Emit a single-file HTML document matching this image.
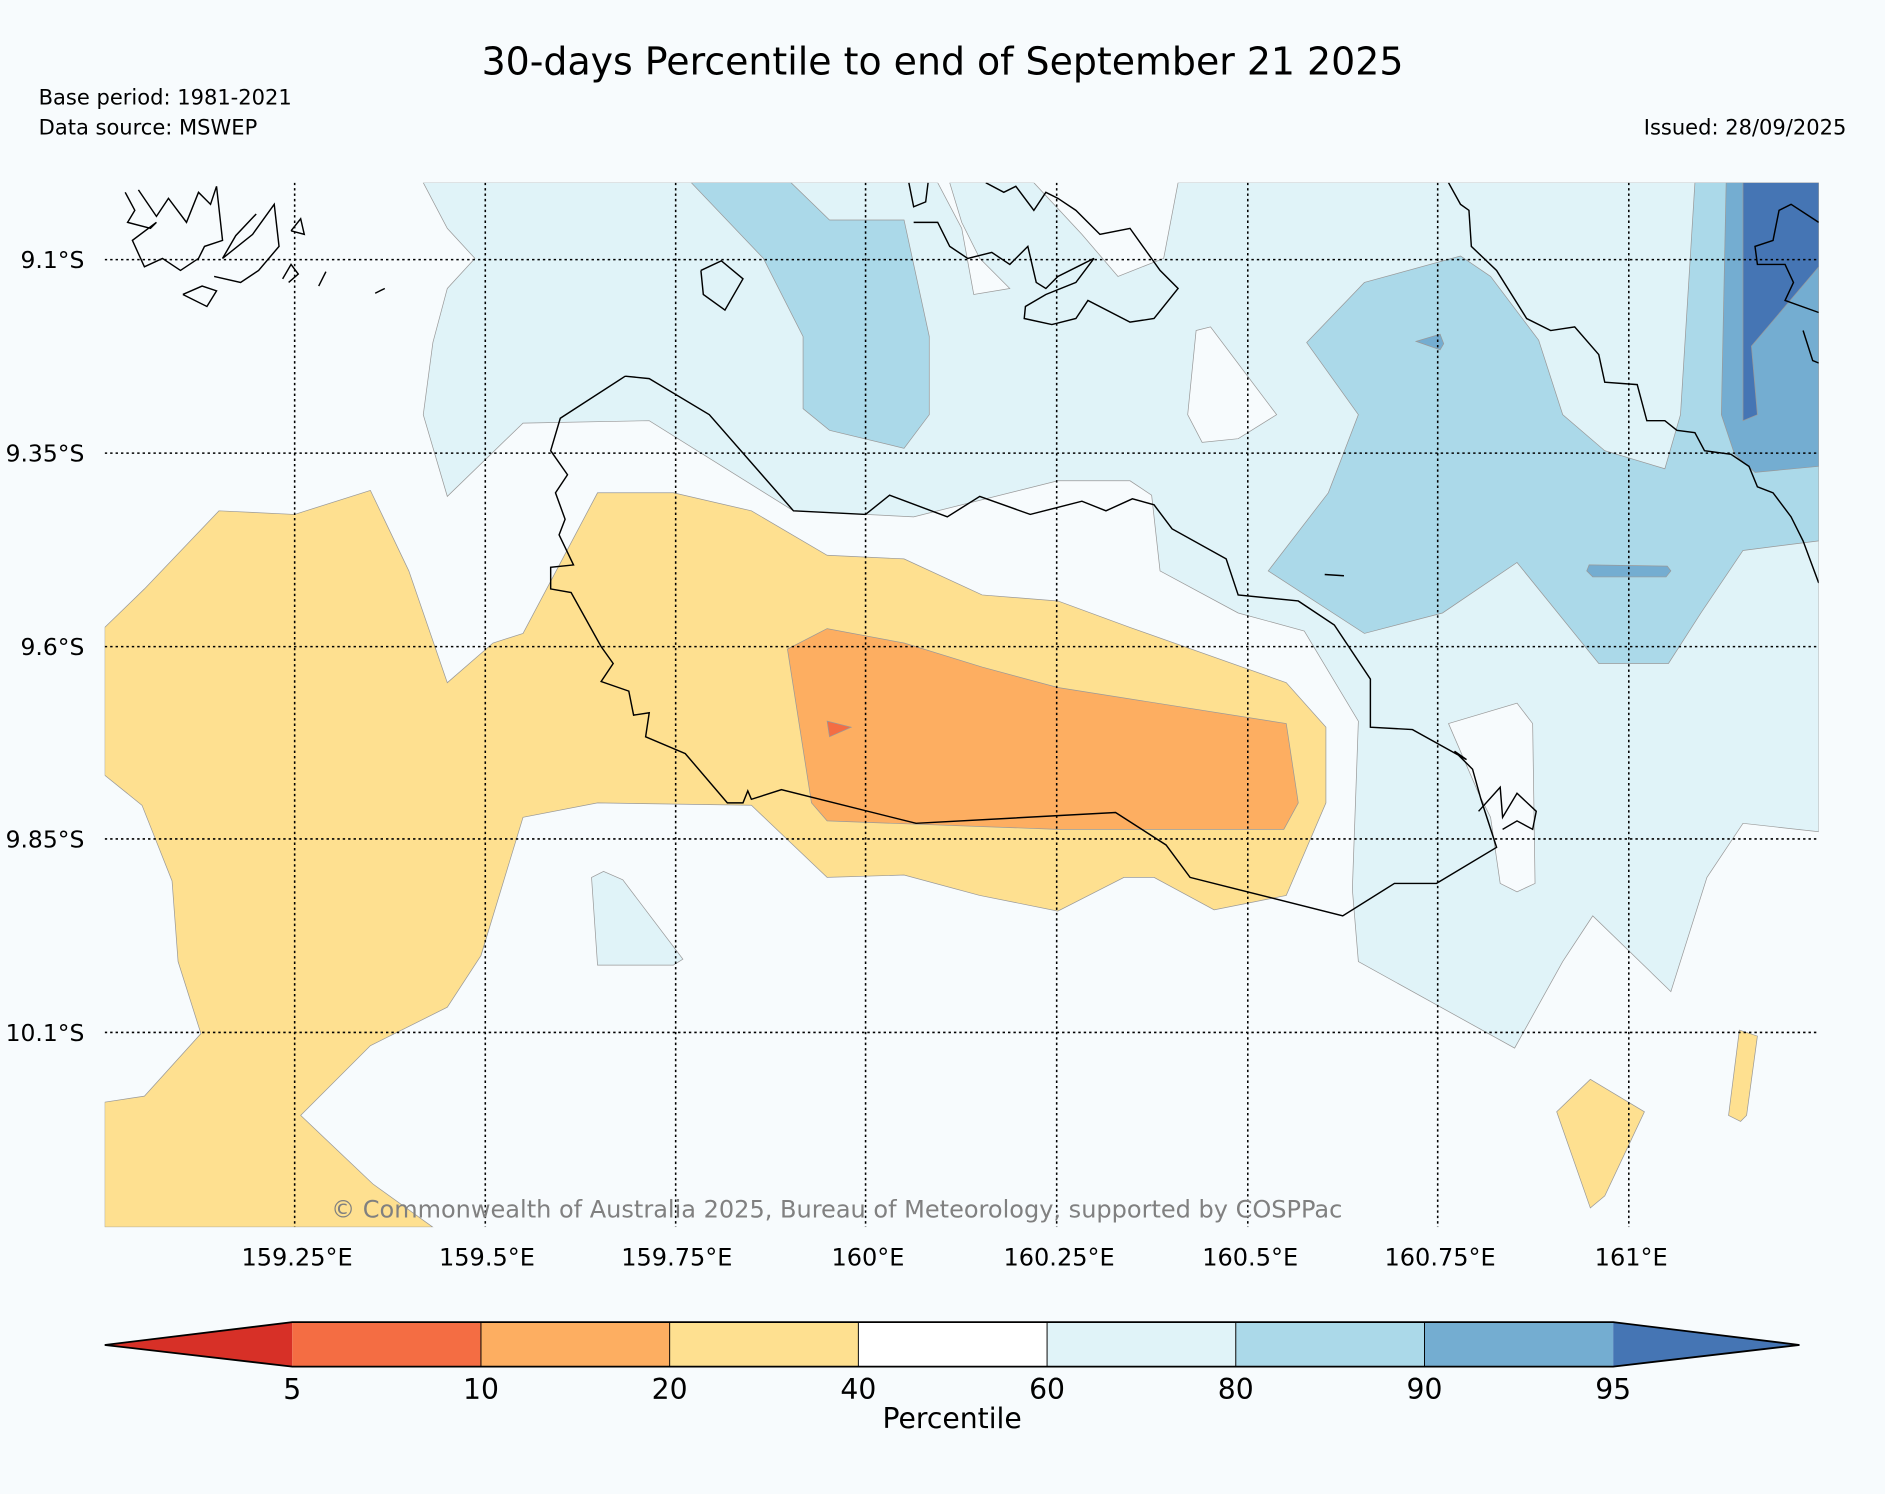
<!DOCTYPE html>
<html><head><meta charset="utf-8"><style>
html,body{margin:0;padding:0;background:#f7fbfd;}
svg{display:block;font-family:"DejaVu Sans","Liberation Sans",sans-serif;}
</style></head><body>
<svg width="1885" height="1494" viewBox="0 0 1568 1243" xmlns="http://www.w3.org/2000/svg">
<rect x="0" y="0" width="1568" height="1243" fill="#f7fbfd"/>
<text x="784" y="62" font-size="31.5" text-anchor="middle" fill="#000">30-days Percentile to end of September 21 2025</text>
<text x="32" y="87" font-size="17.5">Base period: 1981-2021</text>
<text x="32" y="112" font-size="17.5">Data source: MSWEP</text>
<text x="1536" y="112" font-size="17.5" text-anchor="end">Issued: 28/09/2025</text>

<defs><clipPath id="mapclip"><rect x="87" y="152" width="1426" height="869"/></clipPath></defs>
<g clip-path="url(#mapclip)">
<rect x="87" y="152" width="1426" height="869" fill="#f7fbfd"/>
<g stroke="#999" stroke-width="0.6">
<polygon fill="#e0f3f8" points="352,152 372,190 395,215 372,240 360,285 352,345 372,413 435,352 540,350 660,425 760,430 880,400 940,400 958,412 965,475 1030,510 1085,525 1130,600 1125,740 1130,800 1260,872 1300,800 1325,762 1390,825 1420,730 1450,685 1513,692 1513,152 980,152 968,215 930,230 900,195 860,152 790,152 800,185 815,215 840,240 810,245 800,190 780,152"/>
<polygon fill="#f7fbfd" points="995,275 1007,272 1062,345 1030,365 1000,368 988,345"/>
<polygon fill="#f7fbfd" points="1205,602 1262,585 1275,602 1277,735 1262,742 1248,735 1240,680 1230,660"/>
<polygon fill="#e0f3f8" points="492,730 502,725 518,732 568,798 560,803 497,803"/>
<polygon fill="#abd9e9" points="575,152 658,152 690,183 752,183 773,280 773,345 752,373 690,358 668,340 668,280 635,215"/>
<polygon fill="#abd9e9" points="1087,285 1135,235 1215,213 1240,230 1280,283 1300,345 1335,375 1385,390 1398,345 1410,152 1513,152 1513,450 1450,458 1415,510 1388,552 1330,552 1262,468 1200,510 1135,527 1055,475 1105,410 1130,345"/>
<polygon fill="#74add1" points="1436,152 1513,152 1513,388 1460,393 1443,378 1432,345"/>
<polygon fill="#4575b4" points="1450,152 1513,152 1513,222 1457,288 1462,345 1450,350"/>
<polygon fill="#74add1" points="1178,284 1198,278 1201,286 1198,291"/>
<polygon fill="#74add1" points="1322,470 1387,471 1390,475 1386,480 1325,480 1320,475"/>
<polygon fill="#fee090" points="87,522 120,490 182,425 245,428 308,408 340,475 372,568 410,535 435,527 497,410 560,410 625,425 688,462 752,465 817,495 880,500 940,522 1070,568 1103,605 1103,668 1070,745 1010,757 960,730 935,730 880,758 815,745 752,728 688,730 625,670 497,668 435,680 400,795 372,838 308,870 250,928 310,985 360,1021 87,1021 87,917 120,912 167,860 148,800 143,733 118,670 87,645"/>
<polygon fill="#fee090" points="1295,925 1323,898 1368,925 1335,995 1323,1005"/>
<polygon fill="#fee090" points="1447,857 1462,862 1453,928 1448,933 1438,928"/>
<polygon fill="#fdae61" points="655,540 688,523 752,535 817,555 880,572 1070,602 1080,668 1068,690 880,690 688,683 675,668"/>
<polygon fill="#f46d43" points="688,600 708,605 690,613"/>
</g>
<g fill="none" stroke="#000" stroke-width="1.2">
<polyline points="520,313 540,315 590,345 660,425 720,428 740,412 788,430 815,413 857,428 900,417 920,425 942,415 960,420 975,440 1020,465 1030,495 1080,500 1110,520 1140,565 1140,605 1175,607 1220,632 1210,625 1225,640 1232,665 1245,705 1195,735 1160,735 1117,762 990,730 970,703 928,676 762,685 650,657 625,665 622,658 618,668 605,668 570,627 537,613 540,593 527,595 523,575 500,567 510,552 500,538 475,493 458,490 458,472 477,470 465,445 470,432 462,410 472,395 458,375 466,348 520,313"/>
<polyline points="583,225 600,217 618,232 603,258 585,245 583,225"/>
<polyline points="104,160 112,175 106,185 125,190 130,185 110,200 120,222 135,215 150,225 165,215 170,205 185,200 180,155 175,170 165,160 155,185 140,165 130,180 115,158"/>
<polyline points="178,230 200,235 215,225 232,205 228,170 210,195 185,215 196,196 213,178"/>
<polyline points="152,245 168,238 180,242 172,255 152,245"/>
<polyline points="242,192 250,182 253,195 242,192"/>
<polyline points="235,232 242,220 248,228 240,235"/>
<polyline points="756,152 760,172 770,168 772,152 M 784,152 790,170 800,160"/>
<polyline points="760,185 780,185 790,205 805,215 825,210 840,220 855,205 862,235 870,240 880,230 900,220 910,215 895,235 870,245 853,255 852,265 875,270 895,265 905,250 940,268 960,265 980,240 965,225 940,190 915,195 895,175 880,165 870,160 860,175 845,155 835,160 820,152"/>
<polyline points="1205,152 1215,170 1222,175 1224,205 1245,225 1270,265 1290,275 1310,272 1330,295 1335,318 1362,320 1370,350 1385,350 1395,358 1410,360 1418,375 1440,378 1455,388 1462,405 1475,410 1490,430 1500,450 1513,485"/>
<polyline points="1513,185 1490,170 1480,175 1475,200 1460,205 1462,220 1485,220 1492,235 1485,250 1513,260"/>
<polyline points="1500,275 1508,300 1513,302"/>
<polyline points="1230,675 1248,655 1250,680 1262,660 1278,675 1275,690 1262,683 1250,690"/>
<line x1="1102" y1="478" x2="1118" y2="479"/>
<line x1="312" y1="244" x2="320" y2="240"/>
<line x1="265" y1="238" x2="271" y2="226"/>
</g>
<g stroke="#000" stroke-width="1.3" stroke-dasharray="2,2.5">
<line x1="245" y1="152" x2="245" y2="1021"/>
<line x1="403.6" y1="152" x2="403.6" y2="1021"/>
<line x1="562" y1="152" x2="562" y2="1021"/>
<line x1="720" y1="152" x2="720" y2="1021"/>
<line x1="879" y1="152" x2="879" y2="1021"/>
<line x1="1038" y1="152" x2="1038" y2="1021"/>
<line x1="1196" y1="152" x2="1196" y2="1021"/>
<line x1="1355" y1="152" x2="1355" y2="1021"/>
<line x1="87" y1="216" x2="1513" y2="216"/>
<line x1="87" y1="377" x2="1513" y2="377"/>
<line x1="87" y1="538" x2="1513" y2="538"/>
<line x1="87" y1="698" x2="1513" y2="698"/>
<line x1="87" y1="859" x2="1513" y2="859"/>
</g>
<text x="696" y="1013" font-size="20" fill="#808080" text-anchor="middle">© Commonwealth of Australia 2025, Bureau of Meteorology, supported by COSPPac</text>
</g>

<g font-size="19.5" fill="#000">
<text x="70" y="223" text-anchor="end">9.1°S</text>
<text x="70" y="384" text-anchor="end">9.35°S</text>
<text x="70" y="545" text-anchor="end">9.6°S</text>
<text x="70" y="705" text-anchor="end">9.85°S</text>
<text x="70" y="866" text-anchor="end">10.1°S</text>
</g>
<g font-size="20" fill="#000" text-anchor="middle">
<text x="247" y="1053">159.25°E</text>
<text x="405" y="1053">159.5°E</text>
<text x="563" y="1053">159.75°E</text>
<text x="722" y="1053">160°E</text>
<text x="881" y="1053">160.25°E</text>
<text x="1040" y="1053">160.5°E</text>
<text x="1198" y="1053">160.75°E</text>
<text x="1357" y="1053">161°E</text>
</g>

<g>
<polygon points="87,1119 243,1100 243,1137" fill="#d73027"/>
<rect x="243" y="1100" width="157" height="37" fill="#f46d43"/>
<rect x="400" y="1100" width="157" height="37" fill="#fdae61"/>
<rect x="557" y="1100" width="157" height="37" fill="#fee090"/>
<rect x="714" y="1100" width="157" height="37" fill="#ffffff"/>
<rect x="871" y="1100" width="157" height="37" fill="#e0f3f8"/>
<rect x="1028" y="1100" width="157" height="37" fill="#abd9e9"/>
<rect x="1185" y="1100" width="157" height="37" fill="#74add1"/>
<polygon points="1342,1100 1497,1119 1342,1137" fill="#4575b4"/>
<g stroke="#000" stroke-width="0.8">
<line x1="400" y1="1100" x2="400" y2="1137"/><line x1="557" y1="1100" x2="557" y2="1137"/><line x1="714" y1="1100" x2="714" y2="1137"/><line x1="871" y1="1100" x2="871" y2="1137"/><line x1="1028" y1="1100" x2="1028" y2="1137"/><line x1="1185" y1="1100" x2="1185" y2="1137"/>
</g>
<polygon points="87,1119 243,1100 1342,1100 1497,1119 1342,1137 243,1137" fill="none" stroke="#000" stroke-width="1.5"/>
<g font-size="23.5" text-anchor="middle">
<text x="243" y="1164">5</text>
<text x="400" y="1164">10</text>
<text x="557" y="1164">20</text>
<text x="714" y="1164">40</text>
<text x="871" y="1164">60</text>
<text x="1028" y="1164">80</text>
<text x="1185" y="1164">90</text>
<text x="1342" y="1164">95</text>
<text x="792" y="1188">Percentile</text>
</g>
</g>
</svg>
</body></html>
